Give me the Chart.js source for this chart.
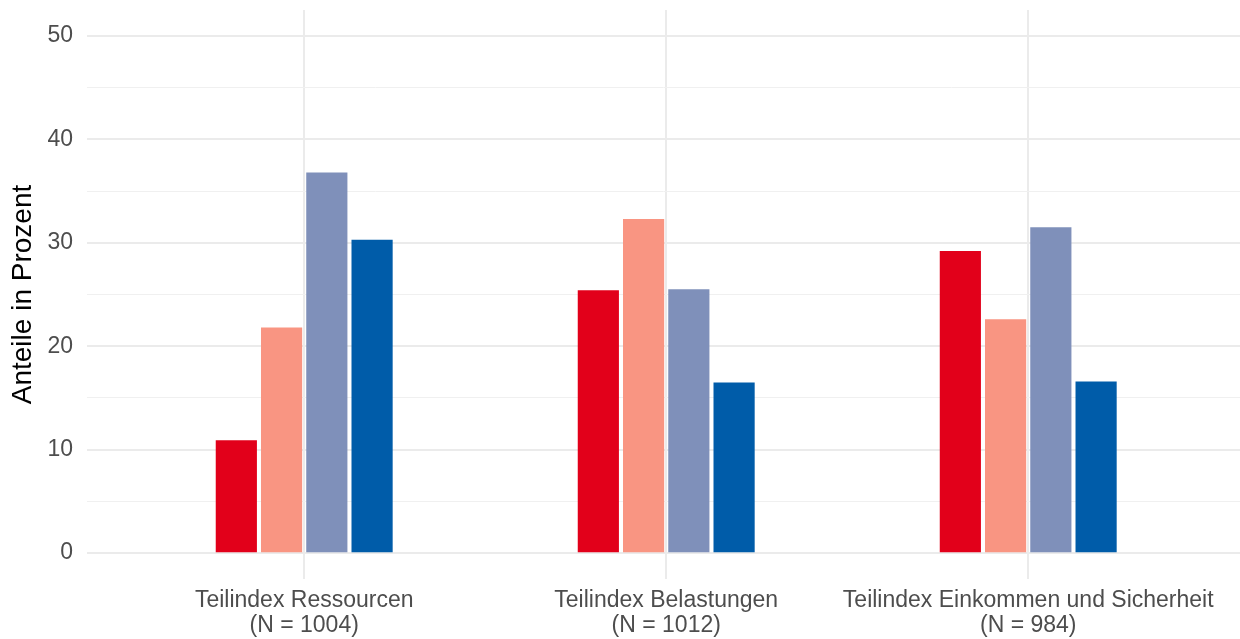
<!DOCTYPE html>
<html>
<head>
<meta charset="utf-8">
<script src="https://cdn.jsdelivr.net/npm/chart.js@4"></script>
<style>
  html, body { margin: 0; padding: 0; background: #fff; }
  #wrap { width: 1240px; height: 639px; }
</style>
</head>
<body>
<div id="wrap"><canvas id="c" width="1240" height="639"></canvas></div>
<script>
const categories = [
  ["Teilindex Ressourcen", "(N = 1004)"],
  ["Teilindex Belastungen", "(N = 1012)"],
  ["Teilindex Einkommen und Sicherheit", "(N = 984)"]
];
const series1 = [10.9, 25.4, 29.2];
const series2 = [21.8, 32.3, 22.6];
const series3 = [36.8, 25.5, 31.5];
const series4 = [30.3, 16.5, 16.6];
const yTicks = [0, 10, 20, 30, 40, 50];
const yMinorTicks = [5, 15, 25, 35, 45];
const colors = ["#E2001A", "#F99582", "#7F90BA", "#005CA9"];
const yTitle = "Anteile in Prozent";

const FONT = "'Liberation Sans', Arial, sans-serif";
const toPts = arr => arr.map((v, i) => ({ x: i + 1, y: v }));
const seriesList = [series1, series2, series3, series4];

new Chart(document.getElementById('c'), {
  type: 'bar',
  data: {
    datasets: seriesList.map((s, k) => ({
      label: 'S' + (k + 1),
      data: toPts(s),
      backgroundColor: colors[k],
      borderWidth: 0,
      categoryPercentage: 0.5,
      barPercentage: 0.91
    }))
  },
  options: {
    responsive: false,
    animation: false,
    devicePixelRatio: 1,
    layout: { padding: { top: 10, right: 0, left: 0, bottom: 0 } },
    plugins: { legend: { display: false }, tooltip: { enabled: false } },
    scales: {
      x: {
        type: 'linear',
        offset: false,
        min: 0.4,
        max: 3.585,
        afterBuildTicks: sc => { sc.ticks = categories.map((c, i) => ({ value: i + 1 })); },
        afterFit: sc => { sc.height = 60; sc.paddingLeft = 0; sc.paddingRight = 0; },
        border: { display: false },
        grid: { color: '#EBEBEB', lineWidth: 2, drawTicks: false, offset: false },
        ticks: {
          padding: 9,
          color: '#4D4D4D',
          font: { family: FONT, size: 23, lineHeight: 1.1 },
          maxRotation: 0,
          minRotation: 0,
          autoSkip: false,
          callback: v => categories[Math.round(v) - 1]
        }
      },
      y: {
        min: -2.5,
        max: 52.5,
        afterBuildTicks: sc => {
          sc.ticks = yTicks.concat(yMinorTicks).sort((a, b) => a - b).map(v => ({ value: v }));
        },
        afterFit: sc => { sc.width = 87; sc.paddingTop = 0; sc.paddingBottom = 0; },
        border: { display: false },
        grid: {
          drawTicks: false,
          color: c => (yTicks.includes(c.tick.value) ? '#EBEBEB' : '#F0F0F0'),
          lineWidth: c => (yTicks.includes(c.tick.value) ? 2 : 1)
        },
        ticks: {
          padding: 14,
          color: '#4D4D4D',
          font: { family: FONT, size: 23 },
          callback: v => (yTicks.includes(v) ? String(v) : '')
        },
        title: {
          display: true,
          text: yTitle,
          color: '#000000',
          font: { family: FONT, size: 28 },
          padding: { top: 6, bottom: 0 }
        }
      }
    }
  }
});
</script>
</body>
</html>
